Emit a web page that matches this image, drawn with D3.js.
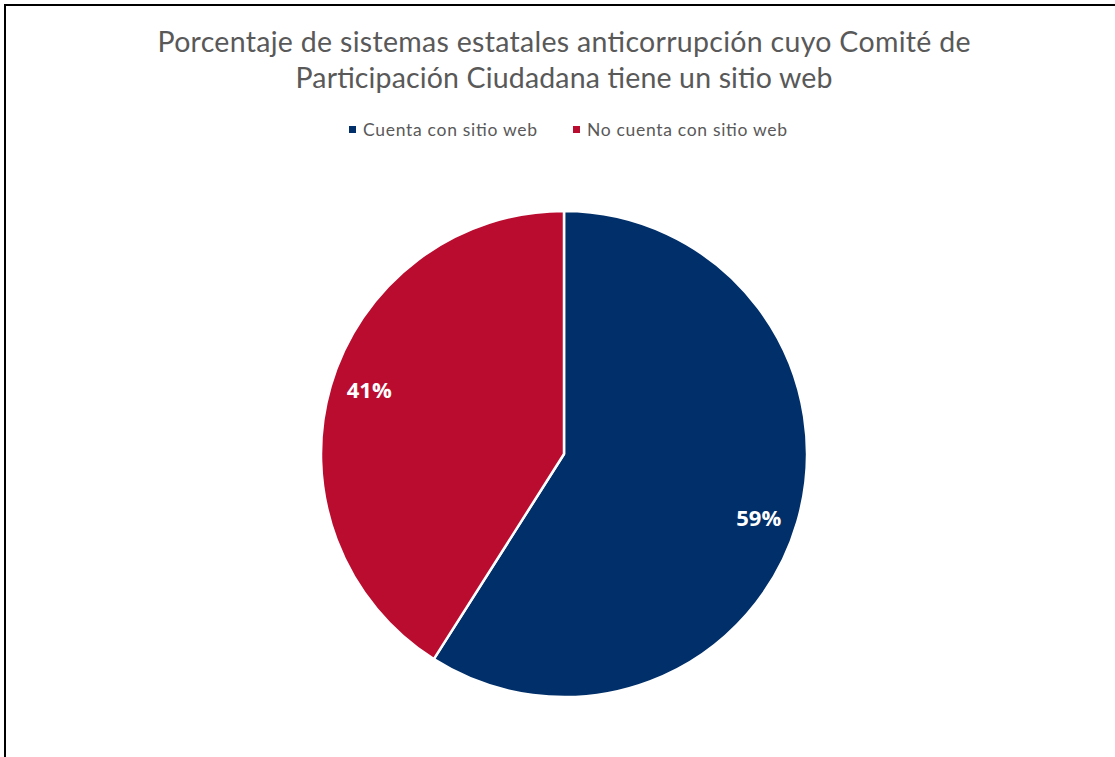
<!DOCTYPE html>
<html>
<head>
<meta charset="utf-8">
<script src="https://cdn.jsdelivr.net/npm/d3@7"></script>
<style>
html,body{margin:0;padding:0;background:#fff;}
svg{display:block;}
</style>
</head>
<body>
<svg id="chart" width="1115" height="757"></svg>
<script>
const categories = ["Cuenta con sitio web", "No cuenta con sitio web"];
const values = [59, 41];
const colors = ["#012F69", "#BA0C2F"];
const titleLines = ["Porcentaje de sistemas estatales anticorrupción cuyo Comité de", "Participación Ciudadana tiene un sitio web"];

const svg = d3.select("#chart");
const W = 1115, H = 757;

// border
svg.append("path")
  .attr("d", `M5,${H+2} L5,5 L${W+2},5`)
  .attr("fill", "none").attr("stroke", "#000").attr("stroke-width", 2);

// title
const titleWidths = [813, 537];
const title = svg.append("text")
  .attr("text-anchor", "middle")
  .attr("font-family", "Lato, 'Open Sans', sans-serif")
  .attr("font-size", 28.5)
  .attr("fill", "#595959");
titleLines.forEach((t, i) => {
  title.append("tspan").attr("x", 564).attr("y", 52 + i * 36)
    .attr("textLength", titleWidths[i]).attr("lengthAdjust", "spacing").text(t);
});

// legend
const legendFont = "Lato, 'Open Sans', sans-serif";
const legendX = [349, 573];
const legendW = [174, 200];
const legend = svg.append("g");
categories.forEach((c, i) => {
  legend.append("rect").attr("x", legendX[i]).attr("y", 126).attr("width", 7).attr("height", 7).attr("fill", colors[i]);
  legend.append("text").attr("x", legendX[i] + 14).attr("y", 136)
    .attr("font-family", legendFont).attr("font-size", 17.5).attr("fill", "#595959")
    .attr("textLength", legendW[i]).attr("lengthAdjust", "spacing").text(c);
});

// pie
const cx = 564, cy = 454, R = 243;
const pie = d3.pie().sort(null).value(d => d)(values);
const arc = d3.arc().innerRadius(0).outerRadius(R);
const labelArc = d3.arc().innerRadius(205).outerRadius(205);
const g = svg.append("g").attr("transform", `translate(${cx},${cy})`);
g.selectAll("path.slice").data(pie).enter().append("path")
  .attr("class", "slice")
  .attr("d", arc)
  .attr("fill", (d, i) => colors[i])
  .attr("stroke", "#fff").attr("stroke-width", 2.5).attr("stroke-linejoin", "round");

const shift = 0.035;
g.selectAll("text.lbl").data(pie).enter().append("text")
  .attr("class", "lbl")
  .attr("transform", d => `translate(${labelArc.centroid({startAngle: d.startAngle + shift, endAngle: d.endAngle + shift})})`)
  .attr("text-anchor", "middle").attr("dy", "0.36em")
  .attr("font-family", "'Open Sans', 'Noto Sans', sans-serif")
  .attr("font-weight", "bold").attr("font-size", 22)
  .attr("fill", "#fff")
  .text(d => d.data + "%");
</script>
</body>
</html>
